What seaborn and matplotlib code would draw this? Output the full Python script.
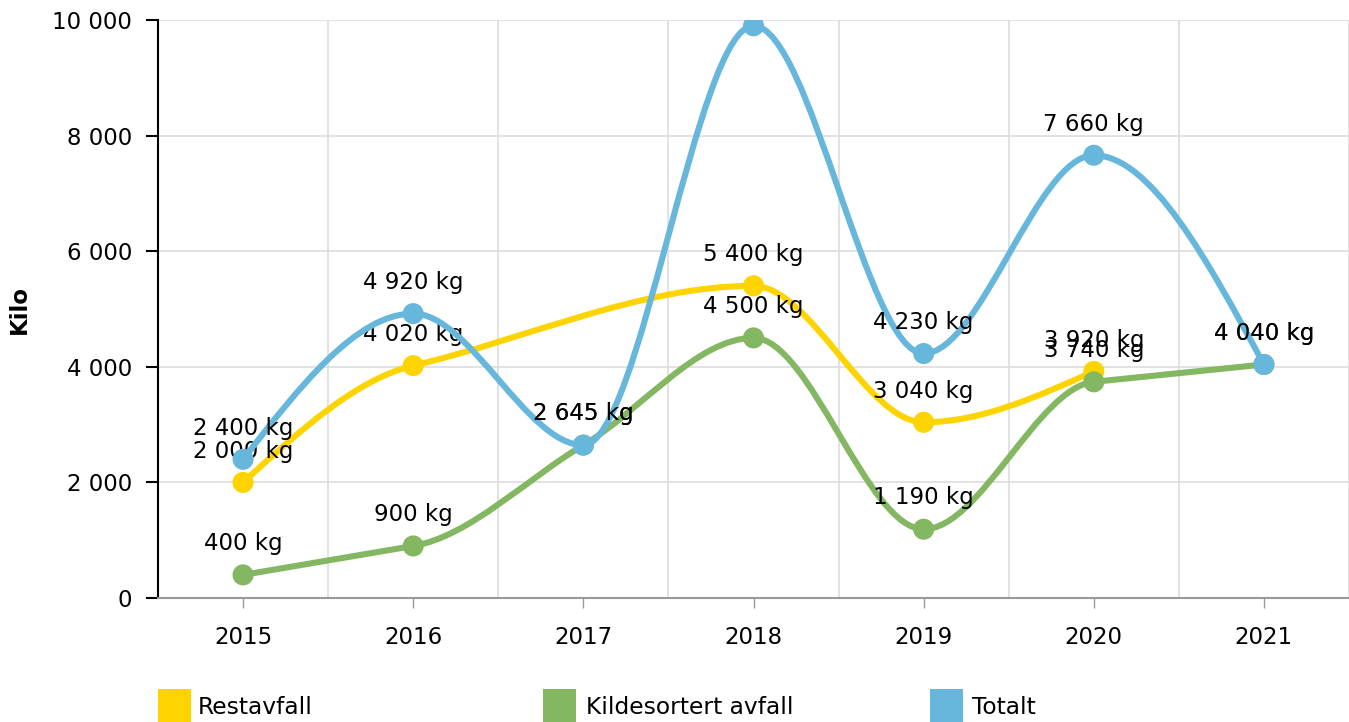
import numpy as np
import pandas as pd
import matplotlib
matplotlib.use("Agg")
import matplotlib.pyplot as plt
import seaborn as sns
from matplotlib.path import Path
from matplotlib.patches import PathPatch, Rectangle
from matplotlib.ticker import FuncFormatter

years = ["2015", "2016", "2017", "2018", "2019", "2020", "2021"]
restavfall = [2000, 4020, None, 5400, 3040, 3920, None]
kildesortert = [400, 900, 2645, 4500, 1190, 3740, 4040]
totalt = [2400, 4920, 2645, 9900, 4230, 7660, 4040]

series_names = ["Restavfall", "Kildesortert avfall", "Totalt"]
series_values = [restavfall, kildesortert, totalt]
colors = ["#FDD400", "#84B761", "#67B7DC"]

W, H = 1349, 722
FS = 16.5
Y_MAX = 10000


def smooth_path(xs, ys):
    """Smoothed line as cubic bezier segments, flat at peaks/dips, no overshoot."""
    xs = np.asarray(xs, float)
    ys = np.asarray(ys, float)
    n = len(xs)
    h = np.diff(xs)
    s = np.diff(ys) / h
    t = np.zeros(n)
    for i in range(1, n - 1):
        if np.sign(s[i - 1]) == np.sign(s[i]):
            t[i] = np.sign(s[i]) * min(abs(s[i - 1]), abs(s[i]))
    if n > 2:
        t[0] = (3 * s[0] - t[1]) / 2
        t[-1] = (3 * s[-1] - t[-2]) / 2
    else:
        t[:] = s[0]
    verts = [(xs[0], ys[0])]
    codes = [Path.MOVETO]
    for i in range(n - 1):
        d = h[i] / 3
        verts += [(xs[i] + d, ys[i] + d * t[i]),
                  (xs[i + 1] - d, ys[i + 1] - d * t[i + 1]),
                  (xs[i + 1], ys[i + 1])]
        codes += [Path.CURVE4] * 3
    return Path(verts, codes)


def fmt_num(v):
    return f"{int(round(v)):,}".replace(",", " ")


sns.set_theme(style="white")
plt.rcParams["font.family"] = ["DejaVu Sans"]

fig = plt.figure(figsize=(W / 100, H / 100), dpi=100)
ax = fig.add_axes([158 / W, 1 - 598 / H, (W - 158) / W, (598 - 20) / H])

for k, (name, vals, col) in enumerate(zip(series_names, series_values, colors)):
    df = pd.DataFrame({"pos": np.arange(len(years)), "val": vals}).dropna()
    z = 3 + 2 * k
    path = smooth_path(df["pos"], df["val"])
    ax.add_patch(PathPatch(path, facecolor="none", edgecolor=col, lw=4.4,
                           capstyle="round", joinstyle="round", zorder=z))
    sns.scatterplot(data=df, x="pos", y="val", color=col, s=230,
                    edgecolor="none", ax=ax, zorder=z + 0.5, legend=False)
    for p, v in zip(df["pos"], df["val"]):
        if v > 0.93 * Y_MAX:
            continue  # label would sit above the plot area
        ax.annotate(f"{fmt_num(v)} kg", (p, v), xytext=(0, 22.5),
                    textcoords="offset points", ha="center", va="center",
                    fontsize=FS, color="black", zorder=z + 1)

ax.set_xlim(-0.5, 6.5)
ax.set_ylim(0, Y_MAX)
ax.set_xticks(range(len(years)))
ax.set_xticklabels(years)
ax.set_xticks(np.arange(-0.5, 7, 1), minor=True)
ax.set_yticks(np.arange(0, Y_MAX + 1, 2000))
ax.yaxis.set_major_formatter(FuncFormatter(lambda v, _: fmt_num(v)))
ax.set_xlabel("")
ax.set_ylabel("Kilo", fontsize=FS, fontweight="bold", color="black")
ax.yaxis.set_label_coords(-0.107, 0.5)

ax.set_axisbelow(True)
ax.grid(False)
ax.grid(which="minor", axis="x", color="#dddddd", lw=1.2)
ax.grid(which="major", axis="y", color="#dddddd", lw=1.2)

for s in ["top", "right"]:
    ax.spines[s].set_visible(False)
ax.spines["left"].set_color("black")
ax.spines["left"].set_linewidth(1.5)
ax.spines["bottom"].set_color("#999999")
ax.spines["bottom"].set_linewidth(1.5)

ax.tick_params(axis="y", which="major", left=True, length=8.5, width=1.5,
               color="black", pad=10, labelsize=FS, labelcolor="black")
ax.tick_params(axis="x", which="major", bottom=True, length=7, width=1,
               color="#999999", pad=13, labelsize=FS, labelcolor="black")
ax.tick_params(axis="x", which="minor", length=0)

# legend along the bottom edge
legend_x = [(158, 198), (543, 586), (930, 972)]
for (sx, tx), name, col in zip(legend_x, series_names, colors):
    fig.add_artist(Rectangle((sx / W, 0), 33 / W, 33 / H, facecolor=col,
                             edgecolor="none", transform=fig.transFigure))
    fig.text(tx / W, 1 - 707 / H, name, fontsize=16.8, color="black",
             va="center", ha="left")

fig.savefig("out.png", dpi=100)
